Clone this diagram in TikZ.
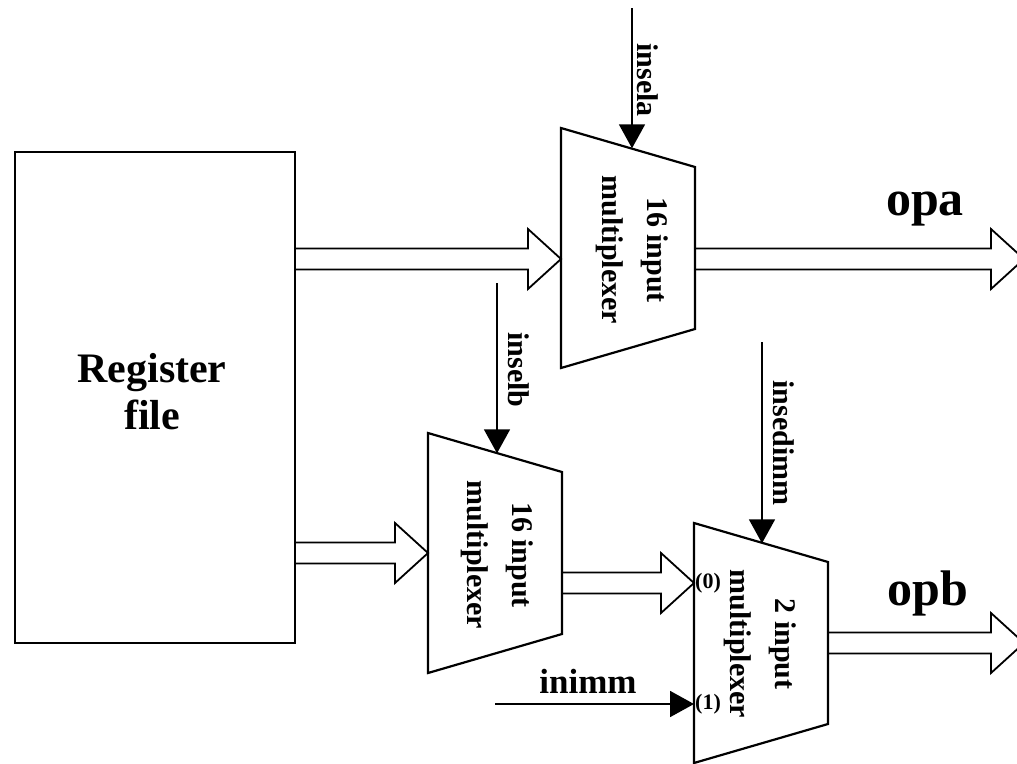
\documentclass[tikz,border=0pt]{standalone}
\usepackage{fontspec}
\setmainfont{Liberation Serif}
\usetikzlibrary{calc,arrows.meta}

\tikzset{
  block/.style={draw, line width=2.2pt},
  bus/.style={draw, line width=1.8pt},
  ctrl/.style={line width=1.8pt, -{Triangle[length=24pt,width=26pt]}},
  muxtext/.style={font=\fontsize{30}{45}\selectfont\bfseries, rotate=-90, align=center},
  sellabel/.style={font=\fontsize{30}{36}\selectfont\bfseries, rotate=-90},
  portlabel/.style={font=\fontsize{22}{24}\selectfont\bfseries, anchor=west, inner sep=1pt},
  biglabel/.style={font=\fontsize{50}{56}\selectfont\bfseries, anchor=base},
}

\newcommand{\muxbox}[3]{%
  \draw[block] (#2,#3-120) coordinate (#1-tl) -- (#2+134,#3-81) coordinate (#1-tr)
    -- (#2+134,#3+81) coordinate (#1-br) -- (#2,#3+120) coordinate (#1-bl) -- cycle;
  \coordinate (#1-sel) at ($(#1-tl)!0.52!(#1-tr)$);
}
\newcommand{\busarrow}[2]{%
  \path[bus] let \p1=(#1), \p2=(#2) in
    (\x1,\y1+10.5pt) -- (\x2-33pt,\y1+10.5pt) -- (\x2-33pt,\y1+30pt) -- (\x2,\y1)
    -- (\x2-33pt,\y1-30pt) -- (\x2-33pt,\y1-10.5pt) -- (\x1,\y1-10.5pt);
}

\begin{document}
\begin{tikzpicture}[x=1pt,y=-1pt]
  \useasboundingbox (0,0) rectangle (1017,763);

  \node[block, minimum width=280, minimum height=491, inner sep=0pt] (reg) at (155,397.5) {};
  \node[font=\fontsize{42}{47}\selectfont\bfseries, align=center] (regname) at (152,392) {Register\\file};

  \muxbox{muxa}{561}{248}
  \muxbox{muxb}{428}{553}
  \muxbox{muxc}{694}{643}

  \node[muxtext] (muxatext) at (632,250) {16 input\\multiplexer};
  \node[muxtext] (muxbtext) at (497,555) {16 input\\multiplexer};
  \node[muxtext] (muxctext) at (760,644) {2 input\\multiplexer};

  \coordinate (ina) at (561,259);
  \coordinate (inb) at (428,553);
  \coordinate (in0) at (694,583);
  \coordinate (in1) at (694,704);
  \coordinate (outa) at (1024,259);
  \coordinate (outb) at (1024,643);

  \busarrow{reg.east |- ina}{ina}
  \busarrow{reg.east |- inb}{inb}
  \busarrow{muxa-tr |- outa}{outa}
  \busarrow{muxb-tr |- in0}{in0}
  \busarrow{muxc-tr |- outb}{outb}

  \coordinate (insela) at (632,8);
  \coordinate (inselb) at (497,283);
  \coordinate (insedimm) at (762,342);
  \coordinate (inimm) at (495,704);
  \draw[ctrl] (insela) -- (insela |- muxa-sel);
  \draw[ctrl] (inselb) -- (inselb |- muxb-sel);
  \draw[ctrl] (insedimm) -- (insedimm |- muxc-sel);
  \draw[ctrl] (inimm) -- (in1);

  \node[sellabel] (lblinsela) at (648,80) {insela};
  \node[sellabel] (lblinselb) at (519,370) {inselb};
  \node[sellabel] (lblinsedimm) at (784,443) {insedimm};
  \node[font=\fontsize{35}{40}\selectfont\bfseries, anchor=base] (lblinimm) at (588,693) {inimm};
  \node[portlabel] (lbl0) at (in0) {(0)};
  \node[portlabel] (lbl1) at (in1) {(1)};
  \node[biglabel] (lblopa) at (925,215) {opa};
  \node[biglabel] (lblopb) at (928,605) {opb};
\end{tikzpicture}
\end{document}
